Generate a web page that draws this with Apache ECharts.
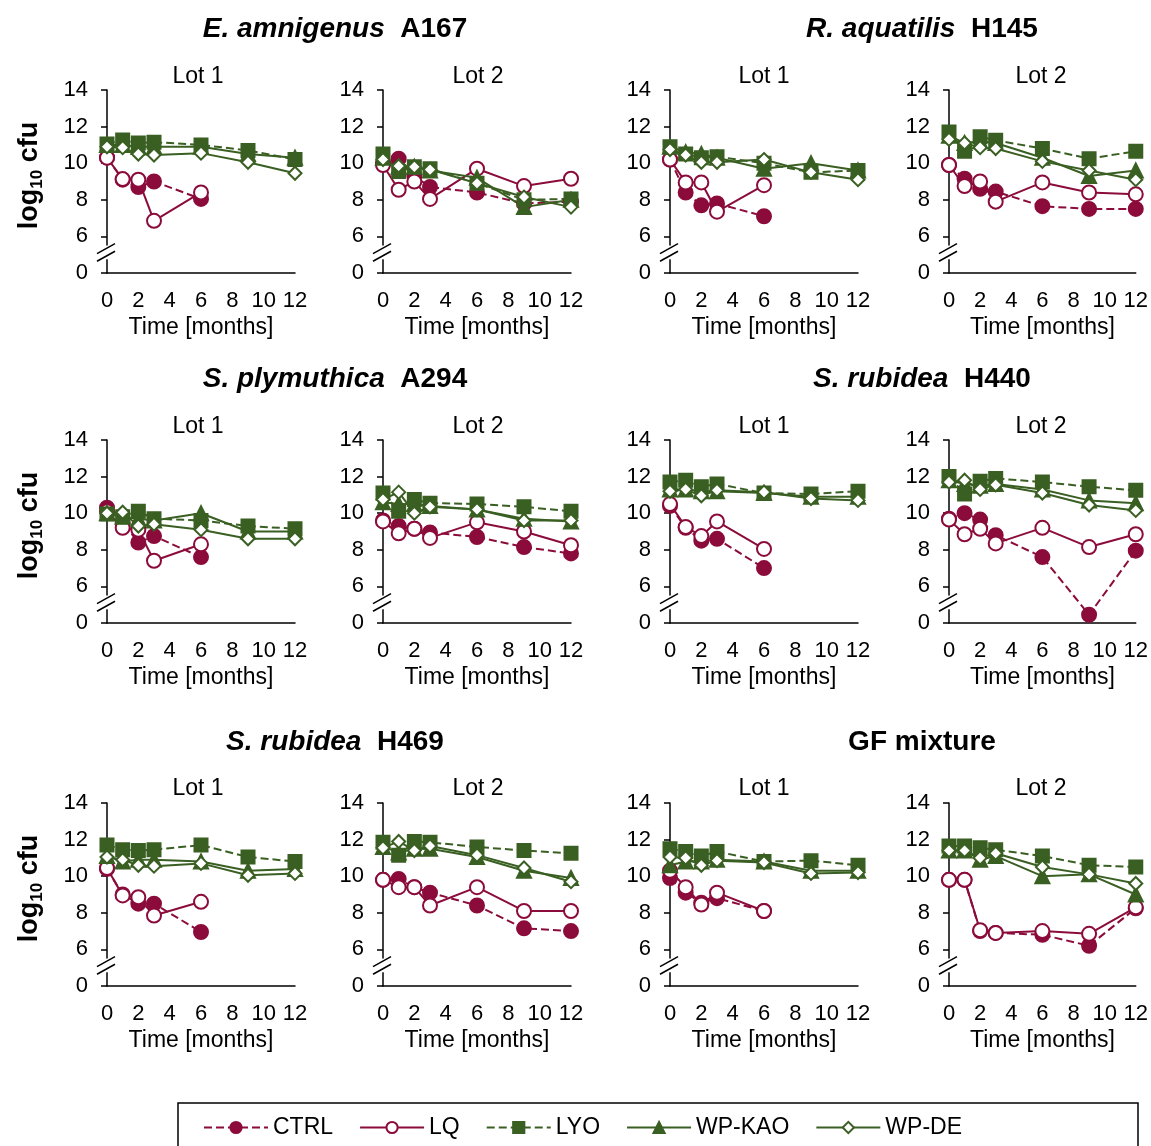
<!DOCTYPE html>
<html>
<head>
<meta charset="utf-8">
<script src="https://cdn.jsdelivr.net/npm/echarts@6/dist/echarts.min.js"></script>
<style>
html, body { margin: 0; padding: 0; background: #fff; }
#main { width: 1151px; height: 1146px; }
</style>
</head>
<body>
<div id="main"></div>
<script>
// sampling times (months)
var months = [0, 1, 2, 3, 6, 9, 12];

// panel order: A167 L1, A167 L2, H145 L1, H145 L2, A294 L1, A294 L2,
//              H440 L1, H440 L2, H469 L1, H469 L2, GF L1, GF L2
var ctrl = [
	[10.3, 9.1, 8.7, 9.0, 8.05],
	[10.0, 10.25, 9.3, 8.7, 8.4, 7.8, 7.9],
	[10.2, 8.4, 7.7, 7.8, 7.1],
	[9.9, 9.15, 8.6, 8.45, 7.65, 7.5, 7.5],
	[10.3, 9.5, 8.4, 8.75, 7.6],
	[9.6, 9.3, 9.15, 8.95, 8.7, 8.15, 7.8],
	[10.4, 9.2, 8.5, 8.6, 7.0],
	[9.7, 10.0, 9.65, 8.8, 7.6, 1.35, 7.95],
	[10.4, 9.0, 8.5, 8.5, 6.95],
	[9.8, 9.85, 9.4, 9.1, 8.4, 7.15, 7.0],
	[9.9, 9.1, 8.55, 8.8, 8.1],
	[9.8, 9.8, 7.0, 6.9, 6.8, 6.2, 8.25]
];
var lq = [
	[10.3, 9.13, 9.1, 6.85, 8.4],
	[9.9, 8.55, 9.0, 8.05, 9.7, 8.75, 9.15],
	[10.2, 8.95, 8.95, 7.35, 8.8],
	[9.9, 8.75, 9.0, 7.9, 8.95, 8.4, 8.3],
	[10.1, 9.2, 9.1, 7.4, 8.3],
	[9.55, 8.9, 9.15, 8.65, 9.5, 9.0, 8.25],
	[10.5, 9.25, 8.75, 9.55, 8.05],
	[9.65, 8.85, 9.15, 8.35, 9.2, 8.15, 8.85],
	[10.45, 8.95, 8.85, 7.85, 8.6],
	[9.8, 9.4, 9.4, 8.4, 9.4, 8.1, 8.1],
	[10.3, 9.4, 8.45, 9.1, 8.1],
	[9.8, 9.8, 7.05, 6.9, 7.0, 6.85, 8.3]
];
var lyo = [
	[11.05, 11.27, 11.1, 11.15, 11.0, 10.7, 10.2],
	[10.5, 9.55, 9.8, 9.7, 8.9, 8.0, 8.05],
	[10.9, 10.5, 10.3, 10.35, 10.0, 9.5, 9.6],
	[11.7, 10.65, 11.45, 11.25, 10.8, 10.25, 10.65],
	[9.95, 9.8, 10.1, 9.7, 9.6, 9.3, 9.15],
	[11.1, 10.1, 10.75, 10.55, 10.5, 10.35, 10.1],
	[11.7, 11.8, 11.45, 11.6, 11.1, 11.05, 11.2],
	[12.0, 11.05, 11.75, 11.9, 11.7, 11.45, 11.25],
	[11.7, 11.45, 11.4, 11.45, 11.7, 11.05, 10.8],
	[11.85, 11.15, 11.9, 11.85, 11.6, 11.4, 11.25],
	[11.5, 11.35, 11.1, 11.35, 10.8, 10.85, 10.6],
	[11.65, 11.65, 11.55, 11.45, 11.1, 10.6, 10.5]
];
var wpKao = [
	[11.0, 11.0, 10.9, 10.9, 10.9, 10.5, 10.3],
	[10.3, 9.8, 9.8, 9.6, 9.2, 7.6, 8.0],
	[10.9, 10.6, 10.5, 10.3, 9.7, 10.0, 9.6],
	[11.5, 11.1, 11.2, 11.1, 10.3, 9.3, 9.6],
	[10.0, 9.8, 9.7, 9.6, 10.0, 9.0, 9.0],
	[10.6, 10.5, 10.5, 10.4, 10.2, 9.7, 9.55],
	[11.3, 11.3, 11.2, 11.2, 11.1, 10.9, 10.9],
	[11.8, 11.6, 11.5, 11.6, 11.3, 10.7, 10.55],
	[11.1, 10.8, 10.9, 10.9, 10.8, 10.3, 10.4],
	[11.6, 11.3, 11.5, 11.5, 11.05, 10.3, 9.9],
	[10.6, 10.8, 10.8, 10.9, 10.8, 10.3, 10.3],
	[11.4, 11.4, 10.9, 11.1, 10.0, 10.1, 9.0]
];
var wpDe = [
	[10.9, 10.85, 10.5, 10.45, 10.55, 10.05, 9.45],
	[10.2, 9.85, 9.8, 9.65, 8.9, 8.15, 7.6],
	[10.75, 10.45, 10.05, 10.05, 10.2, 9.5, 9.1],
	[11.3, 11.1, 10.85, 10.8, 10.1, 9.6, 9.1],
	[10.0, 10.05, 9.3, 9.4, 9.1, 8.6, 8.6],
	[10.75, 11.15, 10.0, 10.35, 10.2, 9.6, 9.6],
	[11.2, 11.3, 10.95, 11.25, 11.15, 10.8, 10.7],
	[11.7, 11.8, 11.3, 11.55, 11.1, 10.45, 10.15],
	[11.05, 10.9, 10.6, 10.55, 10.7, 10.05, 10.15],
	[11.55, 11.9, 11.4, 11.65, 11.15, 10.45, 9.7],
	[11.05, 11.0, 10.6, 10.85, 10.75, 10.15, 10.2],
	[11.4, 11.4, 11.0, 11.25, 10.5, 10.1, 9.6]
];

var headers = [
	['E. amnigenus', 'A167'], ['R. aquatilis', 'H145'],
	['S. plymuthica', 'A294'], ['S. rubidea', 'H440'],
	['S. rubidea', 'H469'], ['', 'GF mixture']
];
var lotNames = ['Lot 1', 'Lot 2'];
var seriesNames = ['CTRL', 'LQ', 'LYO', 'WP-KAO', 'WP-DE'];

var RED = '#8b0b3b';
var GREEN = '#3a5f22';
var FONT = 'Liberation Sans, Arial, sans-serif';

// broken axis: 0..6 squeezed into 4..6 (4 is labelled "0")
function brk(v) {
	return v >= 6 ? v : 4 + v / 3;
}

var chart = echarts.init(document.getElementById('main'));

var colLeft = [107, 383, 670, 949];
var rowTop = [90, 440, 803];
var gw = 188, gh = 183;
var headerY = [10, 360, 723];
var lotY = [60, 410, 772];
var headerX = [330, 917];
var lotX = [193, 473, 759, 1036];

var grids = [], xAxes = [], yAxes = [], series = [], titles = [];

var styles = [
	{ data: ctrl, color: RED, symbol: 'circle', size: 14, dash: 'dashed' },
	{ data: lq, color: RED, symbol: 'emptyCircle', size: 14, dash: 'solid' },
	{ data: lyo, color: GREEN, symbol: 'rect', size: 13, dash: 'dashed' },
	{ data: wpKao, color: GREEN, symbol: 'triangle', size: 14, dash: 'solid' },
	{ data: wpDe, color: GREEN, symbol: 'emptyDiamond', size: 13, dash: 'solid' }
];

for (var p = 0; p < 12; p++) {
	var row = Math.floor(p / 4), col = p % 4;
	grids.push({ left: colLeft[col], top: rowTop[row], width: gw, height: gh });
	xAxes.push({
		type: 'value', gridIndex: p, min: 0, max: 12, interval: 2,
		name: 'Time [months]', nameLocation: 'middle', nameGap: 43,
		nameTextStyle: { fontSize: 23, color: '#000', fontFamily: FONT },
		axisLine: { lineStyle: { color: '#000', width: 1.5 } },
		axisTick: { show: false },
		axisLabel: { fontSize: 22, color: '#000', fontFamily: FONT, margin: 17 },
		splitLine: { show: false }
	});
	yAxes.push({
		type: 'value', gridIndex: p, min: 4, max: 14, interval: 2,
		name: col === 0 ? '{a|log}{s|10}{a| cfu}' : '',
		nameLocation: 'middle', nameGap: 61, nameRotate: 90,
		nameTextStyle: {
			fontFamily: FONT,
			padding: [0, 0, 0, 12],
			rich: {
				a: { fontSize: 27, fontWeight: 'bold', color: '#000', lineHeight: 32, fontFamily: FONT },
				s: { fontSize: 17, fontWeight: 'bold', color: '#000', lineHeight: 18, verticalAlign: 'bottom', fontFamily: FONT }
			}
		},
		axisLine: { show: true, lineStyle: { color: '#000', width: 1.5 } },
		axisTick: { show: true, length: 6, lineStyle: { color: '#000', width: 1.5 } },
		axisLabel: {
			fontSize: 22, color: '#000', fontFamily: FONT, margin: 19,
			formatter: function(v) { return v === 4 ? '0' : String(v); }
		},
		splitLine: { show: false }
	});
	titles.push({
		text: lotNames[col % 2], left: lotX[col], top: lotY[row], textAlign: 'center',
		textStyle: { fontSize: 23, fontWeight: 'normal', color: '#000', fontFamily: FONT }
	});
	for (var s = 0; s < styles.length; s++) {
		var st = styles[s];
		var vals = st.data[p];
		series.push({
			name: seriesNames[s],
			type: 'line',
			xAxisIndex: p, yAxisIndex: p,
			data: vals.map(function(v, i) { return [months[i], brk(v)]; }),
			symbol: st.symbol, symbolSize: st.size,
			lineStyle: { color: st.color, width: 2, type: st.dash },
			itemStyle: { color: st.color, borderColor: st.color, borderWidth: 2 },
			emphasis: { disabled: true },
			animation: false
		});
	}
}

for (var h = 0; h < headers.length; h++) {
	var hr = Math.floor(h / 2), hc = h % 2;
	var txt = headers[h][0] ? '{i|' + headers[h][0] + '}{b|  ' + headers[h][1] + '}' : '{b|' + headers[h][1] + '}';
	titles.push({
		text: txt, left: headerX[hc], top: headerY[hr], textAlign: 'center',
		textStyle: {
			fontFamily: FONT,
			rich: {
				i: { fontSize: 28, fontWeight: 'bold', fontStyle: 'italic', color: '#000', fontFamily: FONT },
				b: { fontSize: 28, fontWeight: 'bold', color: '#000', fontFamily: FONT }
			}
		}
	});
}

var option = {
	backgroundColor: '#fff',
	animation: false,
	title: titles,
	grid: grids,
	xAxis: xAxes,
	yAxis: yAxes,
	legend: {
		data: seriesNames,
		left: 198, top: 1111,
		itemWidth: 64, itemHeight: 14, itemGap: 26,
		textStyle: { fontSize: 23, color: '#000', fontFamily: FONT }
	},
	series: series
};

chart.setOption(option);

// axis break marks (placed from the grid layout) and legend frame
function yPix(row, v) {
	return rowTop[row] + (14 - v) / 10 * gh;
}
var gfx = [{
	type: 'rect', z: 100,
	shape: { x: 178, y: 1103, width: 960, height: 60 },
	style: { fill: null, stroke: '#000', lineWidth: 1.5 }
}];
for (var g = 0; g < 12; g++) {
	var r = Math.floor(g / 4), c = g % 4;
	var ax = colLeft[c];
	var yTop = yPix(r, 5.5), yBot = yPix(r, 4.75);
	gfx.push({
		type: 'rect', z: 100,
		shape: { x: ax - 3, y: yTop, width: 6, height: yBot - yTop },
		style: { fill: '#fff' }
	});
	[yTop + 3, yBot - 3].forEach(function(yy) {
		gfx.push({
			type: 'line', z: 101,
			shape: { x1: ax - 10, y1: yy + 5, x2: ax + 8, y2: yy - 5 },
			style: { stroke: '#000', lineWidth: 1.5 }
		});
	});
}
chart.setOption({ graphic: gfx });
</script>
</body>
</html>
